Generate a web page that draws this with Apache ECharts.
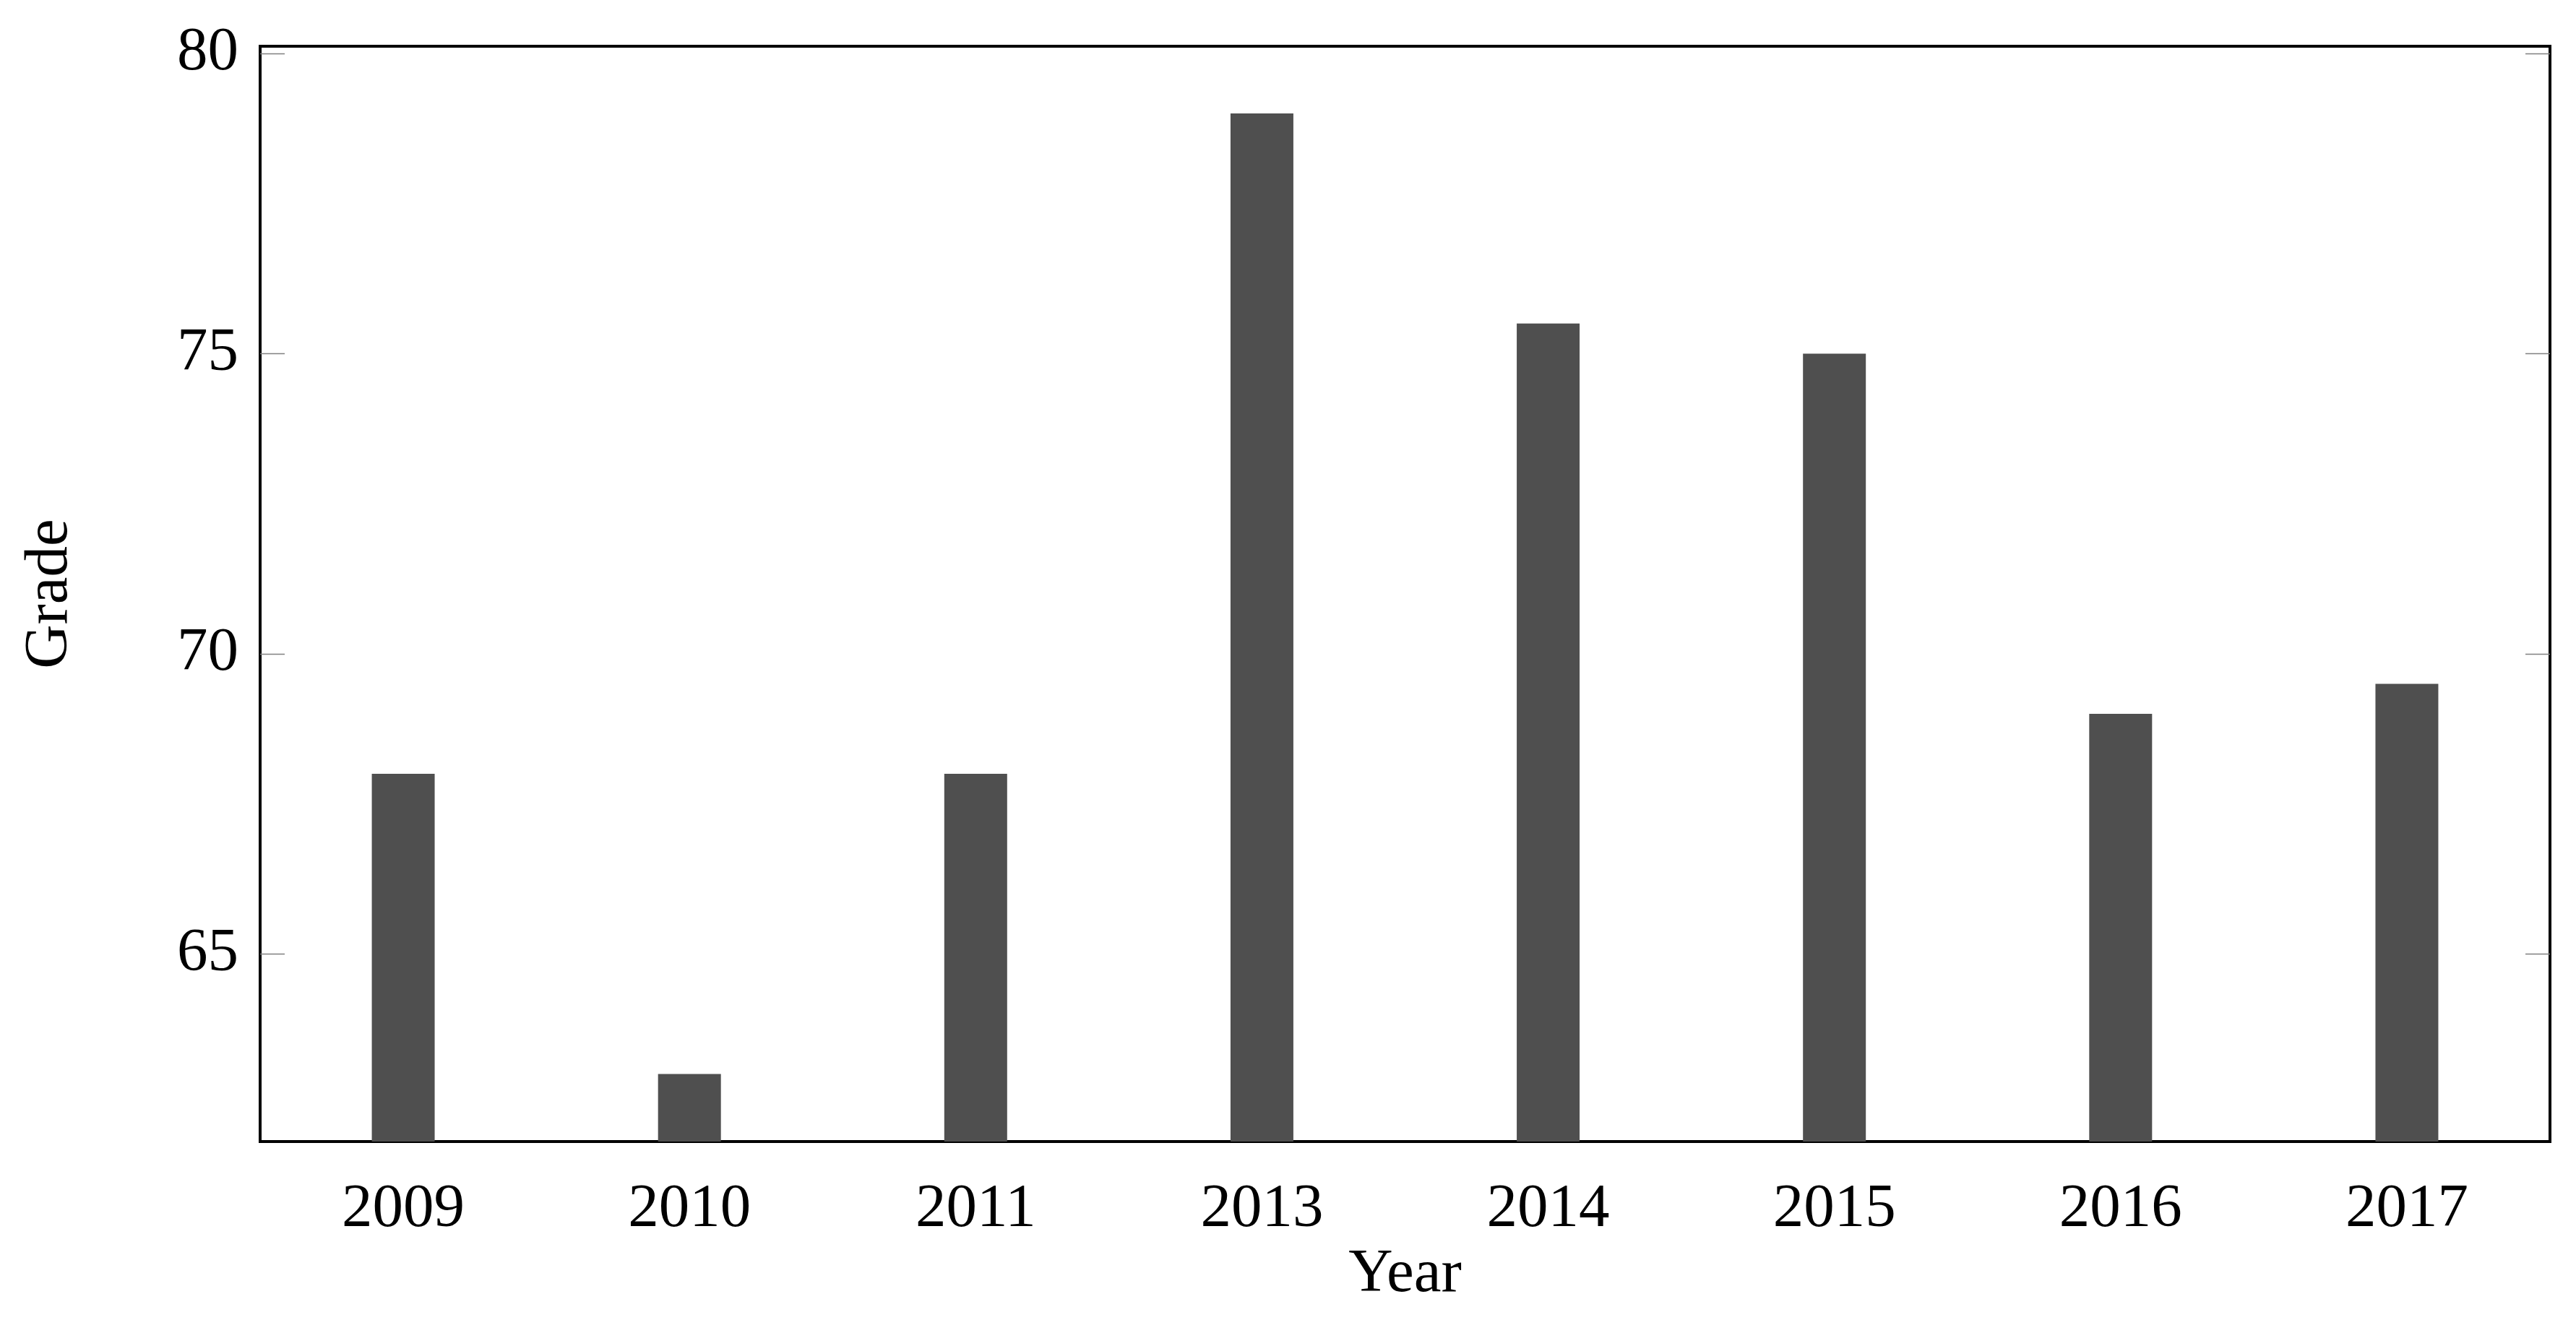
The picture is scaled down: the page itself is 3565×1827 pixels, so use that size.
<!DOCTYPE html>
<html>
<head>
<meta charset="utf-8">
<script src="https://cdn.jsdelivr.net/npm/echarts@6/dist/echarts.min.js"></script>
<style>
  html, body { margin: 0; padding: 0; background: #fff; }
  #chart { width: 3565px; height: 1827px; }
</style>
</head>
<body>
<div id="chart"></div>
<script>
// grades per year (2012 missing in the source)
const years = ["2009", "2010", "2011", "2013", "2014", "2015", "2016", "2017"];
const grades = [68, 63, 68, 79, 75.5, 75, 69, 69.5];
const gradeTicks = [65, 70, 75, 80];

const yMin = 61.874;
const yMax = 80.12;
const font = "'Liberation Serif', 'DejaVu Serif', serif";
const tickColor = "#808080";

document.addEventListener("DOMContentLoaded", () => {
  echarts.init(document.querySelector("#chart")).setOption({
    animation: false,
    grid: {
      left: 360,
      right: 36,
      top: 64,
      bottom: 247,
      show: true,
      borderColor: "#000",
      borderWidth: 4,
    },
    xAxis: [
      {
        type: "category",
        data: years,
        position: "bottom",
        name: "Year",
        nameLocation: "middle",
        nameGap: 139,
        nameTextStyle: { fontFamily: font, fontSize: 85, color: "#000" },
        axisLine: { lineStyle: { color: "#000", width: 4 } },
        axisTick: { alignWithLabel: true, length: 34, lineStyle: { color: tickColor, width: 1.3 } },
        axisLabel: { margin: 52, fontFamily: font, fontSize: 85, color: "#000" },
      },
      {
        type: "category",
        data: years,
        position: "top",
        axisLine: { lineStyle: { color: "#000", width: 4 } },
        axisTick: { alignWithLabel: true, length: 34, lineStyle: { color: tickColor, width: 1.3 } },
        axisLabel: { show: false },
      },
    ],
    yAxis: [
      {
        type: "value",
        min: yMin,
        max: yMax,
        position: "left",
        name: "Grade",
        nameLocation: "middle",
        nameRotate: 90,
        nameGap: 248,
        nameTextStyle: { fontFamily: font, fontSize: 85, color: "#000" },
        splitLine: { show: false },
        axisLine: { show: true, lineStyle: { color: "#000", width: 4 } },
        axisTick: { show: true, inside: true, length: 34, customValues: gradeTicks, lineStyle: { color: tickColor, width: 1.3 } },
        axisLabel: { margin: 30, customValues: gradeTicks, fontFamily: font, fontSize: 85, color: "#000" },
      },
      {
        type: "value",
        min: yMin,
        max: yMax,
        position: "right",
        splitLine: { show: false },
        axisLine: { show: true, lineStyle: { color: "#000", width: 4 } },
        axisTick: { show: true, inside: true, length: 34, customValues: gradeTicks, lineStyle: { color: tickColor, width: 1.3 } },
        axisLabel: { show: false },
      },
    ],
    series: [
      {
        name: "Grade",
        type: "bar",
        data: grades,
        barWidth: 87,
        itemStyle: { color: "#4f4f4f" },
      },
    ],
  });
});
</script>
</body>
</html>
